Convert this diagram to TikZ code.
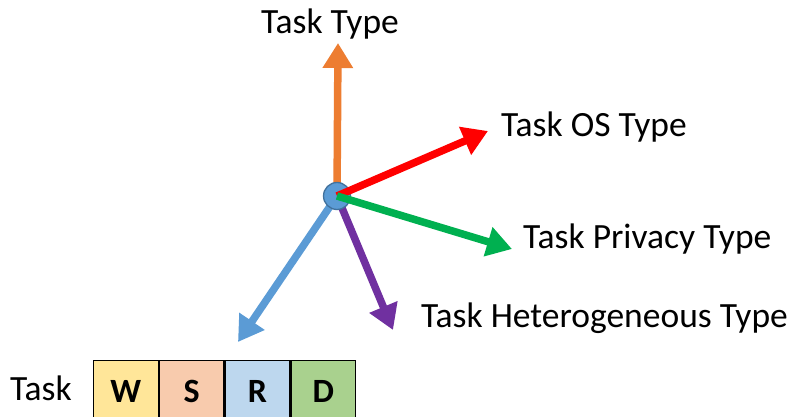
\documentclass[tikz,border=0pt]{standalone}
\usepackage{fontspec}
\setmainfont{Carlito}
\usetikzlibrary{arrows.meta}

\definecolor{axorange}{HTML}{ED7D31}
\definecolor{axred}{HTML}{FF0000}
\definecolor{axgreen}{HTML}{00B050}
\definecolor{axpurple}{HTML}{7030A0}
\definecolor{axblue}{HTML}{5B9BD5}
\definecolor{hubedge}{HTML}{41719C}
\definecolor{cellW}{HTML}{FFE699}
\definecolor{cellS}{HTML}{F8CBAD}
\definecolor{cellR}{HTML}{BDD7EE}
\definecolor{cellD}{HTML}{A9D18E}

\tikzset{
  axis/.style={line width=7.5pt, -{Triangle[length=25pt,width=29pt]}},
  lbl/.style={font=\fontsize{35.5}{42}\selectfont, inner sep=0pt},
  cell/.style={draw=black, line width=1.3pt, minimum width=64.5pt, minimum height=62pt,
               inner sep=0pt, anchor=north west, font=\fontsize{34}{40}\selectfont\bfseries},
}

\begin{document}
\begin{tikzpicture}[x=1pt, y=-1pt]
  \useasboundingbox (0,0) rectangle (794,417);

  % hub and axis end points
  \coordinate (hubc) at (337,196);
  \coordinate (tipType) at (338,43);
  \coordinate (tipOS) at (488,131);
  \coordinate (tipPriv) at (512,249);
  \coordinate (tipHet) at (393,330);
  \coordinate (tipTask) at (238,342);

  % axes lying under the hub
  \draw[axis, axorange] (hubc) -- (tipType);
  \draw[axis, axblue] (hubc) -- (tipTask);
  \draw[axis, axpurple] (hubc) -- (tipHet);

  \node[circle, fill=axblue, draw=hubedge, line width=1.3pt, minimum size=27pt, inner sep=0pt] (hub) at (hubc) {};

  % axes lying over the hub
  \draw[axis, axred] (hub.center) -- (tipOS);
  \draw[axis, axgreen] (hub.center) -- (tipPriv);

  % axis labels
  \node[lbl] (lType) at (330,24) {Task Type};
  \node[lbl, anchor=west] (lOS) at (501,127) {Task OS Type};
  \node[lbl, anchor=west] (lPriv) at (523,239) {Task Privacy Type};
  \node[lbl, anchor=west] (lHet) at (421,318) {Task Heterogeneous Type};
  \node[lbl, anchor=west] (lTask) at (10,388) {Task};

  % task record cells
  \begin{scope}
    \clip (0,0) rectangle (794,417);
    \node[cell, fill=cellW] (cW) at (93,360) {\raisebox{1pt}{W}};
    \node[cell, fill=cellS] (cS) at (cW.north east) {\raisebox{1pt}{S}};
    \node[cell, fill=cellR] (cR) at (cS.north east) {\raisebox{1pt}{R}};
    \node[cell, fill=cellD] (cD) at (cR.north east) {\raisebox{1pt}{D}};
  \end{scope}
\end{tikzpicture}
\end{document}
